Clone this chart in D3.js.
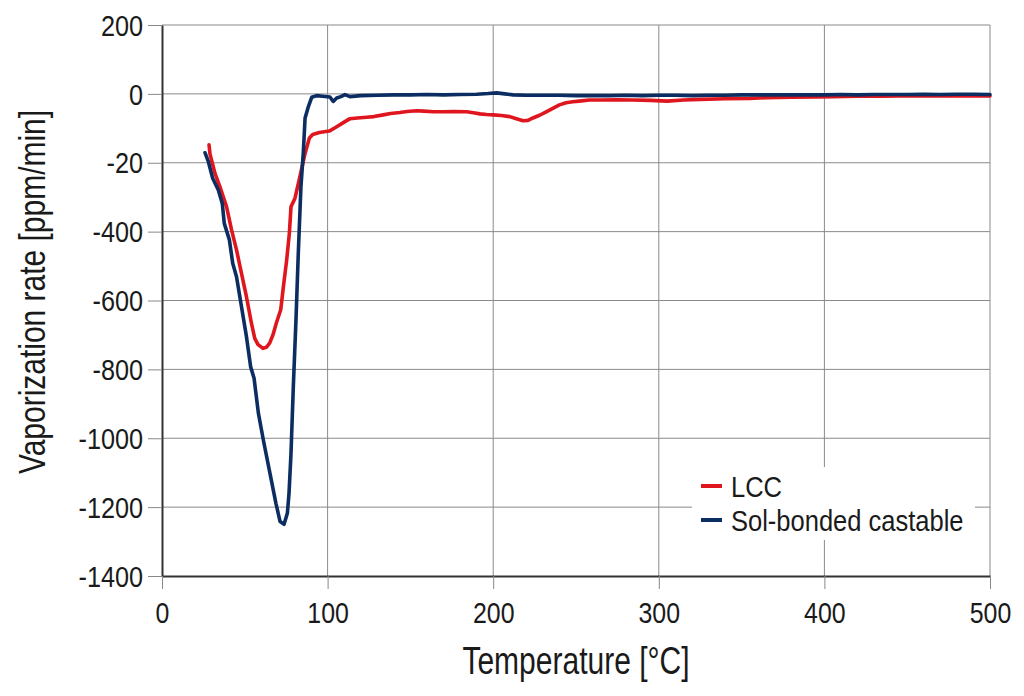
<!DOCTYPE html>
<html>
<head>
<meta charset="utf-8">
<script src="https://cdn.jsdelivr.net/npm/d3@7"></script>
<style>
  html, body { margin: 0; padding: 0; background: #fff; }
  svg { display: block; }
  text { font-family: "Liberation Sans", Arial, sans-serif; fill: #1a1a1a; }
</style>
</head>
<body>
<svg id="chart" width="1024" height="696"></svg>
<script>
// ---- data ----
const xTicks = [0, 100, 200, 300, 400, 500];
const yTicks = [200, 0, -200, -400, -600, -800, -1000, -1200, -1400];
const yTickLabels = ["200", "0", "-20", "-400", "-600", "-800", "-1000", "-1200", "-1400"];
const seriesNames = ["LCC", "Sol-bonded castable"];
const seriesColors = ["#e0161f", "#0b2d61"];

const lccTemp = [28.4, 29, 32, 35, 39, 42, 45, 48, 51, 54, 56, 58, 61, 63, 65, 67, 69, 71.7, 73.3, 75.3, 76.9, 77.9, 80.3, 83.3, 86.4, 89, 91, 95, 101, 105, 110, 113.5, 118, 123.6, 128, 133.6, 138, 143.7, 148, 153.8, 158, 164, 170, 176, 184, 188, 192, 196, 200, 205, 210, 214, 218, 221, 224, 228, 232, 236, 240, 244, 248, 252, 258, 265, 275, 284, 295, 305, 315, 325, 340, 355, 365, 380, 395, 405, 420, 435, 445, 460, 475, 490, 500];
const lccRate = [-148, -175, -231, -270, -328, -395, -453, -521, -589, -666, -710, -728, -739, -736, -724, -700, -666, -627, -560, -482, -405, -328, -303, -240, -173, -128, -118, -112, -108, -97, -82, -72, -70, -68, -66, -61, -57, -54, -51, -49, -50, -52, -52, -51, -52, -55, -58, -60, -61, -63, -66, -72, -78, -77, -70, -62, -52, -42, -32, -26, -23, -21, -18, -18, -17, -18, -19, -21, -18, -16, -14, -13, -11, -10, -9, -8, -7, -7, -6, -6, -5, -6, -6];

const solTemp = [26, 28, 30.6, 34, 36.4, 37.6, 40.7, 42.7, 45, 48, 51, 53.5, 55.6, 58.2, 61.2, 65.2, 68.8, 71.3, 73.7, 75.7, 76.7, 77.9, 79.3, 80.9, 82.3, 83.9, 85.3, 86.4, 88.4, 90.4, 93.4, 97, 101.4, 103.4, 105.5, 108, 110.5, 113.5, 120, 130, 140, 150, 160, 170, 180, 190, 197, 202, 207, 212, 220, 230, 240, 250, 260, 270, 280, 290, 300, 310, 320, 330, 340, 350, 360, 370, 380, 390, 400, 410, 420, 430, 440, 450, 460, 470, 480, 490, 500];
const solRate = [-171, -197, -245, -279, -318, -376, -424, -492, -531, -618, -705, -792, -826, -927, -1005, -1102, -1189, -1242, -1250, -1218, -1160, -1044, -850, -657, -463, -269, -173, -70, -37, -10, -5, -7, -9, -22, -12, -8, -2, -8, -5, -4, -3, -3, -2, -3, -2, -1, 1, 3, 0, -3, -4, -4, -4, -5, -5, -5, -4, -5, -4, -4, -5, -4, -4, -3, -3, -3, -3, -3, -3, -2, -3, -2, -2, -2, -1, -2, -1, -1, -2];

// ---- layout ----
const svg = d3.select("#chart");
const mLeft = 162, mRight = 990, mTop = 25, mBottom = 576;
const x = d3.scaleLinear().domain([0, 500]).range([mLeft, mRight]);
const y = d3.scaleLinear().domain([-1400, 200]).range([mBottom, mTop]);

// gridlines
const grid = svg.append("g");
grid.selectAll("line.v").data(xTicks.slice(1)).join("line")
  .attr("x1", d => x(d)).attr("x2", d => x(d))
  .attr("y1", mTop).attr("y2", mBottom)
  .attr("stroke", "#8a8a8a").attr("stroke-width", 1);
grid.selectAll("line.h").data(yTicks.slice(0, -1)).join("line")
  .attr("x1", mLeft).attr("x2", mRight)
  .attr("y1", d => y(d)).attr("y2", d => y(d))
  .attr("stroke", "#8a8a8a").attr("stroke-width", 1);

// axes
const yAxis = d3.axisLeft(y).tickValues(yTicks)
  .tickFormat((d, i) => yTickLabels[i]).tickSize(14).tickSizeOuter(0);
const gy = svg.append("g").attr("transform", `translate(${mLeft},0)`).call(yAxis);
gy.select(".domain").attr("stroke", "#333").attr("stroke-width", 2);
gy.selectAll(".tick line").attr("stroke", "#888").attr("stroke-width", 1);
gy.selectAll(".tick text")
  .attr("x", 0).attr("dy", "0.35em")
  .attr("transform", "translate(-19,0) scale(0.87,1)")
  .style("font-size", "29px").style("font-family", "'Liberation Sans', Arial, sans-serif")
  .attr("fill", "#1a1a1a");

const xAxis = d3.axisBottom(x).tickValues(xTicks).tickFormat(d3.format("d"))
  .tickSize(13).tickSizeOuter(0);
const gx = svg.append("g").attr("transform", `translate(0,${mBottom})`).call(xAxis);
gx.select(".domain").attr("stroke", "#333").attr("stroke-width", 2);
gx.selectAll(".tick line").attr("stroke", "#888").attr("stroke-width", 1);
gx.selectAll(".tick text")
  .attr("y", 0).attr("dy", 0)
  .attr("transform", "translate(0,47) scale(0.86,1)")
  .style("font-size", "29px").style("font-family", "'Liberation Sans', Arial, sans-serif")
  .attr("fill", "#1a1a1a");

// titles
svg.append("text")
  .attr("transform", `translate(${(mLeft + mRight) / 2},674) scale(0.79,1)`)
  .attr("text-anchor", "middle").style("font-size", "38px")
  .text("Temperature [°C]");
svg.append("text")
  .attr("transform", `translate(45,292) rotate(-90) scale(0.81,1)`)
  .attr("text-anchor", "middle").style("font-size", "37px")
  .text("Vaporization rate [ppm/min]");

// lines
const line = d3.line().x(d => x(d[0])).y(d => y(d[1])).curve(d3.curveLinear);
const lccData = lccTemp.map((t, i) => [t, lccRate[i]]);
const solData = solTemp.map((t, i) => [t, solRate[i]]);
[lccData, solData].forEach((data, i) => {
  svg.append("path").datum(data)
    .attr("d", line)
    .attr("fill", "none")
    .attr("stroke", seriesColors[i])
    .attr("stroke-width", 3.6)
    .attr("stroke-linejoin", "round")
    .attr("stroke-linecap", "round");
});

// legend
const lg = svg.append("g");
lg.append("rect").attr("x", 692).attr("y", 467).attr("width", 283).attr("height", 73).attr("fill", "#fff");
seriesNames.forEach((name, i) => {
  const yy = 486 + i * 34;
  lg.append("line").attr("x1", 701).attr("x2", 722).attr("y1", yy).attr("y2", yy)
    .attr("stroke", seriesColors[i]).attr("stroke-width", 4);
  lg.append("text")
    .attr("transform", `translate(731,${yy + 11}) scale(0.88,1)`)
    .style("font-size", "29px")
    .text(name);
});
</script>
</body>
</html>
